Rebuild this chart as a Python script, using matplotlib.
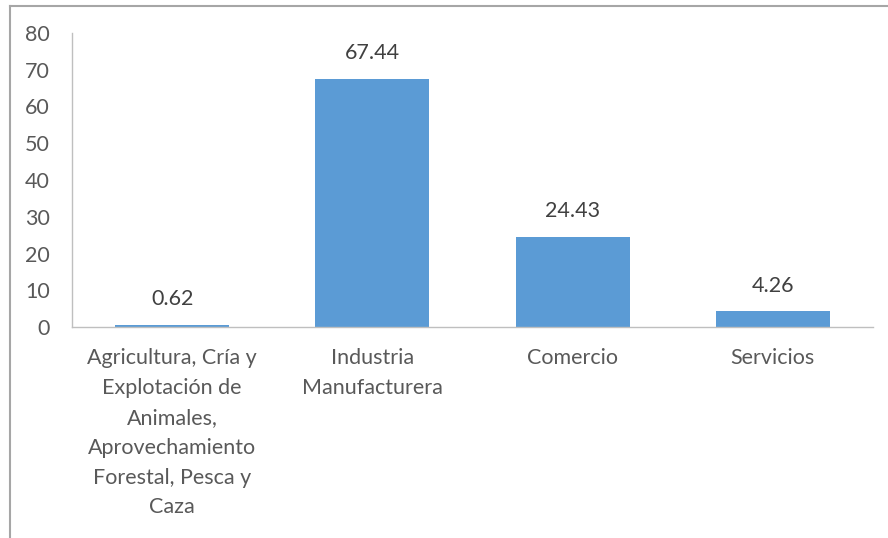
import matplotlib.pyplot as plt
from matplotlib.lines import Line2D

categories = [
    "Agricultura, Cría y\nExplotación de\nAnimales,\nAprovechamiento\nForestal, Pesca y\nCaza",
    "Industria\nManufacturera",
    "Comercio",
    "Servicios",
]
values = [0.62, 67.44, 24.43, 4.26]
yticks = [0, 10, 20, 30, 40, 50, 60, 70, 80]

plt.rcParams['font.family'] = ['Lato', 'DejaVu Sans']
text_color = '#595959'
fs = 15.5

fig = plt.figure(figsize=(8.88, 5.38), dpi=100)
ax = fig.add_axes([72 / 888, 1 - 327 / 538, 801 / 888, 294 / 538])

x = range(len(values))
bars = ax.bar(x, values, width=0.57, color='#5B9BD5', zorder=2)
for b, v in zip(bars, values):
    ax.text(b.get_x() + b.get_width() / 2, v + 4.3, f"{v:.2f}",
            ha='center', va='bottom', fontsize=fs, color='#404040')

ax.set_xlim(-0.5, 3.5)
ax.set_ylim(0, 80)
ax.set_yticks(yticks)
ax.set_yticklabels([str(t) for t in yticks])
ax.set_xticks(list(x))
ax.set_xticklabels(categories, linespacing=1.62)

ax.tick_params(axis='y', length=0, pad=16, labelsize=fs, labelcolor=text_color)
ax.tick_params(axis='x', length=0, pad=15, labelsize=fs, labelcolor=text_color)

for side in ['top', 'right']:
    ax.spines[side].set_visible(False)
ax.spines['left'].set_color('#bfbfbf')
ax.spines['bottom'].set_color('#bfbfbf')
ax.spines['left'].set_linewidth(1.0)
ax.spines['bottom'].set_linewidth(1.0)

# outer frame lines along the top and left
fig.add_artist(Line2D([10 / 888, 1], [1 - 6 / 538, 1 - 6 / 538],
                      transform=fig.transFigure, color='#a6a6a6', lw=1.5))
fig.add_artist(Line2D([10 / 888, 10 / 888], [0, 1 - 6 / 538],
                      transform=fig.transFigure, color='#a6a6a6', lw=1.5))

fig.savefig('out.png', dpi=100)
